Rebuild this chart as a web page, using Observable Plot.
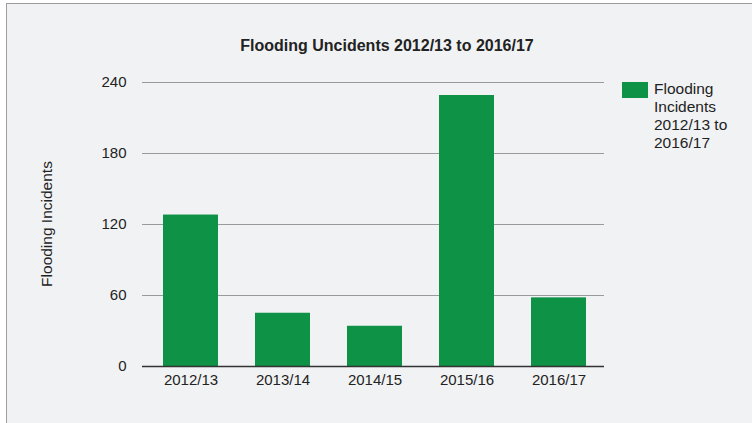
<!DOCTYPE html>
<html>
<head>
<meta charset="utf-8">
<script src="https://cdn.jsdelivr.net/npm/d3@7"></script>
<script src="https://cdn.jsdelivr.net/npm/@observablehq/plot@0.6"></script>
<style>
  html, body { margin: 0; padding: 0; background: #ffffff; }
  #wrap { position: relative; width: 752px; height: 423px; overflow: hidden; font-family: "Liberation Sans", Arial, Helvetica, sans-serif; }
  #box { position: absolute; left: 6px; top: 3px; width: 800px; height: 500px; background: #f1f2f4; border-left: 1.5px solid #9d9d9d; border-top: 1.5px solid #9d9d9d; }
  #chart { position: absolute; left: 0; top: 0; }
  #title { position: absolute; left: 0; width: 774px; top: 37px; text-align: center; font-weight: bold; font-size: 16px; color: #222; }
  #legend { position: absolute; left: 622px; top: 80px; display: flex; align-items: flex-start; }
  #legend .sw { width: 26px; height: 16px; background: #0e9245; margin-top: 2px; margin-right: 6px; }
  #legend .lt { font-size: 15.5px; line-height: 18px; color: #222; }
  #ylab { position: absolute; left: 47px; top: 224px; transform: translate(-50%, -50%) rotate(-90deg); font-size: 15.5px; color: #222; white-space: nowrap; }
</style>
</head>
<body>
<div id="wrap">
  <div id="box"></div>
  <div id="chart"></div>
  <div id="title"></div>
  <div id="ylab"></div>
  <div id="legend"><div class="sw"></div><div class="lt"></div></div>
</div>
<script>
const titleText = "Flooding Uncidents 2012/13 to 2016/17";
const yLabel = "Flooding Incidents";
const legendLines = ["Flooding", "Incidents", "2012/13 to", "2016/17"];
const seasons = ["2012/13", "2013/14", "2014/15", "2015/16", "2016/17"];
const incidents = [128, 45, 34, 229, 58];
const yTicks = [0, 60, 120, 180, 240];
const gridTicks = [60, 120, 180, 240];
const barColor = "#0e9245";

const data = seasons.map((s, i) => ({season: s, value: incidents[i]}));

document.getElementById("title").textContent = titleText;
document.getElementById("ylab").textContent = yLabel;
document.querySelector("#legend .lt").innerHTML = legendLines.join("<br>");

const chart = Plot.plot({
  width: 752,
  height: 423,
  marginLeft: 142,
  marginRight: 148,
  marginTop: 82,
  marginBottom: 57,
  style: {background: "transparent", fontSize: "15px", fontFamily: "Liberation Sans, Arial, Helvetica, sans-serif", color: "#222"},
  x: {domain: seasons, paddingInner: 0.4, paddingOuter: 0.2, align: 0.55, label: null},
  y: {domain: [0, 240], label: null},
  marks: [
    Plot.ruleY(gridTicks, {stroke: "#9a9a9a", strokeWidth: 1.2}),
    Plot.barY(data, {x: "season", y: "value", fill: barColor}),
    Plot.ruleY([0], {stroke: "#333", strokeWidth: 1.5}),
    Plot.axisY(yTicks, {tickSize: 0, tickPadding: 16, label: null, fill: "#222"}),
    Plot.axisX({tickSize: 0, tickPadding: 8, label: null, fill: "#222"})
  ]
});
document.getElementById("chart").appendChild(chart);
</script>
</body>
</html>
